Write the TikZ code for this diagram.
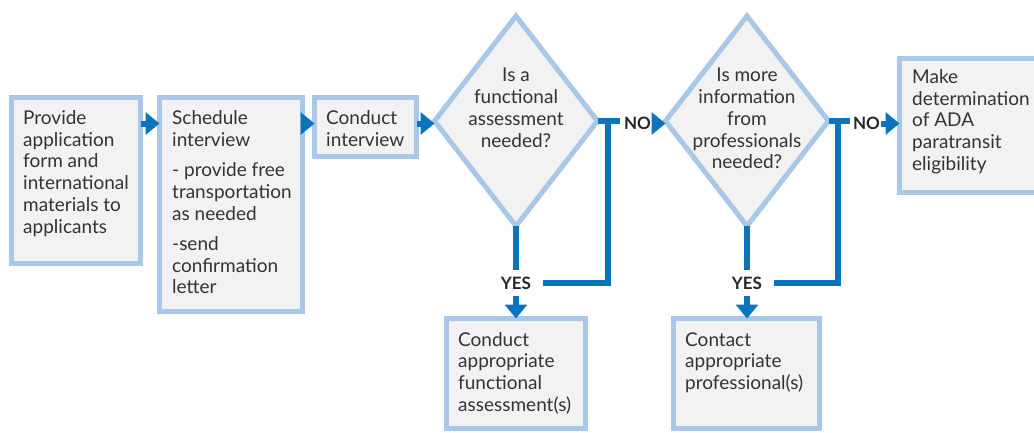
\documentclass[tikz,border=0pt]{standalone}
\usepackage{fontspec}
\setmainfont{Lato}
\usetikzlibrary{arrows.meta,shapes.geometric}
\definecolor{frameblue}{HTML}{A9C7E8}
\definecolor{flowblue}{HTML}{0A74BD}
\definecolor{boxfill}{HTML}{F2F2F2}
\definecolor{inktext}{HTML}{333333}
% fixed-height rule so every text block's first baseline sits 15pt below its top
\newcommand{\firstline}{\rule{0pt}{15pt}}
\begin{document}
\begin{tikzpicture}[x=1pt,y=-1pt,
  stepbox/.style={draw=frameblue, fill=boxfill, line width=5pt, rectangle,
    inner sep=0pt, outer sep=0pt, anchor=north west},
  decision/.style={draw=frameblue, fill=boxfill, line width=5pt, diamond,
    inner sep=0pt, outer sep=0pt, minimum width=163pt, minimum height=210pt},
  txt/.style={font=\fontsize{19}{21.7}\selectfont, text=inktext, inner sep=0pt,
    align=left, anchor=north west},
  ctxt/.style={txt, align=center, anchor=north},
  flow/.style={draw=flowblue, line width=6pt},
  arr/.style={flow, -{Triangle[length=14pt,width=22pt]}},
  answer/.style={font=\fontsize{17}{17}\selectfont\bfseries, text=black!85,
    inner sep=0pt, text height=12.2pt, text depth=0pt},
  yeslabel/.style={answer, outer xsep=11.5pt, outer ysep=6.9pt},
  nolabel/.style={answer, outer xsep=1.5pt},
]
\useasboundingbox (0,0) rectangle (1034,432);
\clip (0,0) rectangle (1034,432);

% boxes and decisions
\node[stepbox, minimum width=129pt, minimum height=166pt] (b1) at (11.5,97.5) {};
\node[stepbox, minimum width=143pt, minimum height=214pt] (b2) at (159.5,97.5) {};
\node[stepbox, minimum width=102pt, minimum height=59pt]  (b3) at (314.5,97.5) {};
\node[decision] (d1) at (516,121) {};
\node[decision] (d2) at (747,121) {};
\node[stepbox, minimum width=150pt, minimum height=134pt] (b6) at (899.5,58.5) {};
\node[stepbox, minimum width=139pt, minimum height=110pt] (b4) at (446.5,318.5) {};
\node[stepbox, minimum width=146pt, minimum height=110pt] (b5) at (673.5,318.5) {};

% texts
\node[txt] (t1) at (23,109.3) {\firstline Provide\\application\\form and\\international\\materials to\\applicants};
\node[txt] (t2) at (172,109.3) {\firstline Schedule\\interview\\[9pt]- provide free\\transportation\\as needed\\[8.5pt]-send\\confirmation\\letter};
\node[txt] (t3) at (326,109.3) {\firstline Conduct\\interview};
\node[ctxt] (td1) at (516,66.7) {\firstline Is a\\functional\\assessment\\needed?};
\node[ctxt] (td2) at (747,66.7) {\firstline Is more\\information\\from\\professionals\\needed?};
\node[txt] (t6) at (912,68.3) {\firstline Make\\determination\\of ADA\\paratransit\\eligibility};
\node[txt] (t4) at (458,331) {\firstline Conduct\\appropriate\\functional\\assessment(s)};
\node[txt] (t5) at (685,331) {\firstline Contact\\appropriate\\professional(s)};

% answer labels
\node[yeslabel] (y1) at (516,283) {YES};
\node[yeslabel] (y2) at (747,283) {YES};
\node[nolabel] (n1) at (637.5,123.5) {NO};
\node[nolabel] (n2) at (866.5,123.5) {NO};

% main row
\coordinate (row) at (0,123.5);
\draw[arr] (b1.east |- row) -- (b2.west |- row);
\draw[arr] (b2.east |- row) -- (b3.west |- row);
\draw[arr] (b3.east |- row) -- (row -| d1.west);

% first decision
\coordinate (t1end) at (620,121);
\coordinate (j1) at (608,121);
\coordinate (k1) at (608,283);
\draw[flow] (d1.east) -- (t1end);
\draw[flow, line join=miter] (j1) -- (k1) -- (y1.east);
\draw[flow] (d1.south) -- (y1.north);
\draw[arr] (y1.south) -- (b4.north);
\draw[arr] (n1.east) -- (n1.east -| d2.west);

% second decision
\coordinate (t2end) at (850,121);
\coordinate (j2) at (838,121);
\coordinate (k2) at (838,283);
\draw[flow] (d2.east) -- (t2end);
\draw[flow, line join=miter] (j2) -- (k2) -- (y2.east);
\draw[flow] (d2.south) -- (y2.north);
\draw[arr] (y2.south) -- (y2.south |- b5.north);
\draw[arr] (n2.east) -- (n2.east -| b6.west);
\end{tikzpicture}
\end{document}
